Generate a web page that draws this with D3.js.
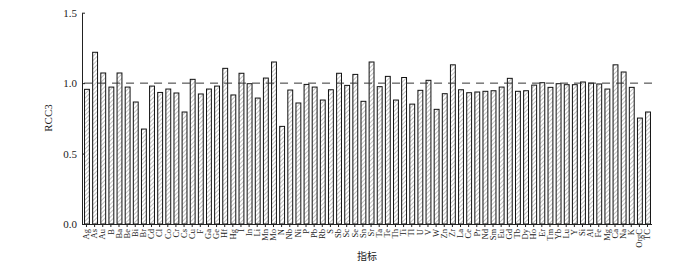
<!DOCTYPE html>
<html><head><meta charset="utf-8">
<script src="https://cdn.jsdelivr.net/npm/d3@7"></script>
<style>body{margin:0;background:#fff}svg{display:block}</style>
</head><body>
<svg id="c" width="700" height="266"></svg>
<script>
const categories = ["Ag","As","Au","B","Ba","Be","Bi","Br","Cd","Cl","Co","Cr","Cs","Cu","F","Ga","Ge","Hf","Hg","I","In","Li","Mn","Mo","N","Nb","Ni","P","Pb","Rb","S","Sb","Sc","Se","Sn","Sr","Ta","Te","Th","Ti","Tl","U","V","W","Zn","Zr","La","Ce","Pr","Nd","Sm","Eu","Gd","Tb","Dy","Ho","Er","Tm","Yb","Lu","Y","Si","Al","Fe","Mg","Ca","Na","K","OrgC","TC"];
const values = [0.956,1.219,1.072,0.972,1.072,0.972,0.866,0.674,0.979,0.934,0.958,0.930,0.795,1.027,0.923,0.958,0.979,1.105,0.916,1.07,0.996,0.894,1.036,1.15,0.693,0.951,0.859,0.991,0.972,0.880,0.953,1.07,0.984,1.062,0.871,1.15,0.975,1.048,0.880,1.04,0.851,0.949,1.02,0.814,0.925,1.13,0.953,0.932,0.937,0.942,0.946,0.972,1.034,0.942,0.946,0.986,1.003,0.97,0.996,0.989,0.989,1.008,1.0,0.994,0.958,1.13,1.079,0.97,0.752,0.795];
const yTicks = [0, 0.5, 1.0, 1.5];
const refValue = 1.0;
const xTitle = "指标";
const yTitle = "RCC3";

(function(){
const svg = d3.select("#c");
const mL = 82, mR = 652, mT = 12.7, mB = 224;
const x = d3.scaleBand().domain(categories).range([mL, mR]).paddingInner(0.4).paddingOuter(0.25);
const y = d3.scaleLinear().domain([0, 1.5]).range([mB, mT]);

const defs = svg.append("defs");
const pat = defs.append("pattern").attr("id","hatch").attr("patternUnits","userSpaceOnUse")
  .attr("width",3).attr("height",3).attr("patternTransform","rotate(45)");
pat.append("rect").attr("width",3).attr("height",3).attr("fill","#fff");
pat.append("line").attr("x1",0).attr("y1",0).attr("x2",0).attr("y2",3).attr("stroke","#9a9a9a").attr("stroke-width",1.2);

svg.append("g").selectAll("rect").data(values).join("rect")
  .attr("x",(d,i)=>x(categories[i])+0.5)
  .attr("y",d=>y(d))
  .attr("width",x.bandwidth())
  .attr("height",d=>y(0)-y(d))
  .attr("fill","url(#hatch)")
  .attr("stroke","#111").attr("stroke-width",1);

svg.append("line")
  .attr("x1",x(categories[0])).attr("x2",mR)
  .attr("y1",y(refValue)).attr("y2",y(refValue))
  .attr("stroke","#333").attr("stroke-width",1).attr("stroke-dasharray","8,6");

const yAxis = svg.append("g").attr("transform",`translate(${mL},0)`)
  .call(d3.axisLeft(y).tickValues(yTicks).tickFormat(d3.format(".1f")).tickSizeInner(-3).tickSizeOuter(0).tickPadding(5));
yAxis.selectAll("text").attr("font-family","Liberation Serif").attr("font-size",11).attr("fill","#222");
yAxis.selectAll("line,path").attr("stroke","#222");

const xAxis = svg.append("g").attr("transform",`translate(0,${mB})`)
  .call(d3.axisBottom(x).tickSizeInner(3).tickSizeOuter(0).tickPadding(2));
xAxis.select("path").attr("d",`M${mL},0.5H${mR}`).attr("stroke","#222");
xAxis.selectAll("line").attr("stroke","#222");
xAxis.selectAll("text")
  .attr("font-family","Liberation Serif").attr("font-size",8.5).attr("fill","#222")
  .attr("text-anchor","end").attr("dy","0.32em")
  .attr("transform","rotate(-90)").attr("x",-5).attr("y",0);

svg.append("text").attr("transform",`translate(52,118) rotate(-90)`)
  .attr("text-anchor","middle").attr("font-family","Liberation Serif").attr("font-size",11).attr("fill","#222").text(yTitle);
svg.append("text").attr("x",367).attr("y",260).attr("text-anchor","middle")
  .attr("font-family","Noto Sans CJK SC").attr("font-size",10).attr("fill","#222").text(xTitle);
})();
</script>
</body></html>
